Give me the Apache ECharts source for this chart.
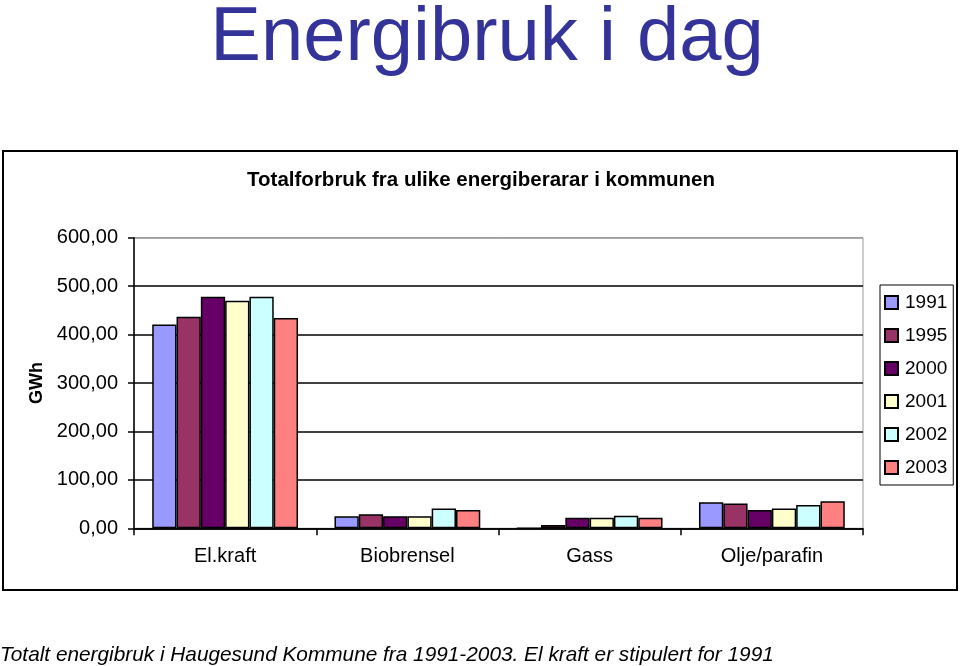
<!DOCTYPE html>
<html>
<head>
<meta charset="utf-8">
<script src="https://cdn.jsdelivr.net/npm/echarts@6/dist/echarts.min.js"></script>
<style>
html,body{margin:0;padding:0;background:#fff;}
#chart{width:960px;height:666px;}
</style>
</head>
<body>
<div id="chart"></div>
<script>
const categories = ['El.kraft', 'Biobrensel', 'Gass', 'Olje/parafin'];
const years = ['1991', '1995', '2000', '2001', '2002', '2003'];
const v1991 = [421, 25, 0, 54];
const v1995 = [437, 29, 7, 51];
const v2000 = [478, 25, 22, 38];
const v2001 = [470, 25, 22, 41];
const v2002 = [478, 41, 26, 48];
const v2003 = [434, 38, 22, 56];
const seriesValues = [v1991, v1995, v2000, v2001, v2002, v2003];
const colors = ['#9999FF', '#993366', '#660066', '#FFFFCC', '#CCFFFF', '#FF8080'];
const yTicks = [0, 100, 200, 300, 400, 500, 600];

const FONT = '"Liberation Sans", Arial, sans-serif';
const chart = echarts.init(document.getElementById('chart'), null, {renderer: 'canvas'});

const option = {
  animation: false,
  backgroundColor: '#fff',
  textStyle: {fontFamily: FONT},
  graphic: [
    {type: 'rect', shape: {x: 3, y: 151, width: 954, height: 439}, style: {fill: 'none', stroke: '#000', lineWidth: 2}, z: -1},
    {type: 'text', x: 487, y: 39, style: {text: 'Energibruk i dag', font: '76px ' + FONT, fill: '#333399', textAlign: 'center', textVerticalAlign: 'middle'}},
    {type: 'text', x: 481, y: 180, style: {text: 'Totalforbruk fra ulike energiberarar i kommunen', font: 'bold 20.5px ' + FONT, fill: '#000', textAlign: 'center', textVerticalAlign: 'middle'}},
    {type: 'text', x: 37, y: 383, rotation: Math.PI / 2, style: {text: 'GWh', font: 'bold 18px ' + FONT, fill: '#000', textAlign: 'center', textVerticalAlign: 'middle'}},
    {type: 'text', x: 0, y: 655, style: {text: 'Totalt energibruk i Haugesund Kommune fra 1991-2003. El kraft er stipulert for 1991', font: 'italic 20.8px ' + FONT, fill: '#000', textAlign: 'left', textVerticalAlign: 'middle'}}
  ],
  legend: {
    orient: 'vertical',
    left: 880,
    top: 285,
    width: 73,
    padding: [8, 6, 8, 4],
    itemWidth: 13,
    itemHeight: 13,
    itemGap: 14,
    borderColor: '#000',
    borderWidth: 1,
    backgroundColor: '#fff',
    icon: 'rect',
    textStyle: {fontSize: 19, color: '#000', fontFamily: FONT, padding: [0, 0, 0, 2]},
    data: years
  },
  grid: {left: 134, right: 97, top: 237.7, bottom: 137.7, show: true, borderColor: '#999', borderWidth: 1},
  xAxis: {
    type: 'category',
    data: categories,
    boundaryGap: true,
    axisLine: {lineStyle: {color: '#000', width: 1.5}},
    axisTick: {show: true, length: 7, alignWithLabel: false, lineStyle: {color: '#000', width: 1.5}},
    axisLabel: {fontSize: 20, color: '#000', margin: 18, fontFamily: FONT},
    splitLine: {show: false}
  },
  yAxis: {
    type: 'value',
    min: yTicks[0],
    max: yTicks[yTicks.length - 1],
    interval: yTicks[1] - yTicks[0],
    axisLine: {show: true, lineStyle: {color: '#000', width: 1.5}},
    axisTick: {show: true, length: 6, lineStyle: {color: '#000', width: 1.5}},
    axisLabel: {fontSize: 20, color: '#000', margin: 16, fontFamily: FONT,
      formatter: v => v.toFixed(2).replace('.', ',')},
    splitLine: {show: true, lineStyle: {color: ['#000', '#000', '#000', '#000', '#000', '#000', '#999'], width: 1.5}}
  },
  series: years.map((y, i) => ({
    name: y,
    type: 'bar',
    data: seriesValues[i],
    barGap: 0,
    barCategoryGap: '20%',
    itemStyle: {color: colors[i], borderColor: '#000', borderWidth: 1.5},
    emphasis: {disabled: true}
  }))
};
chart.setOption(option);
</script>
</body>
</html>
